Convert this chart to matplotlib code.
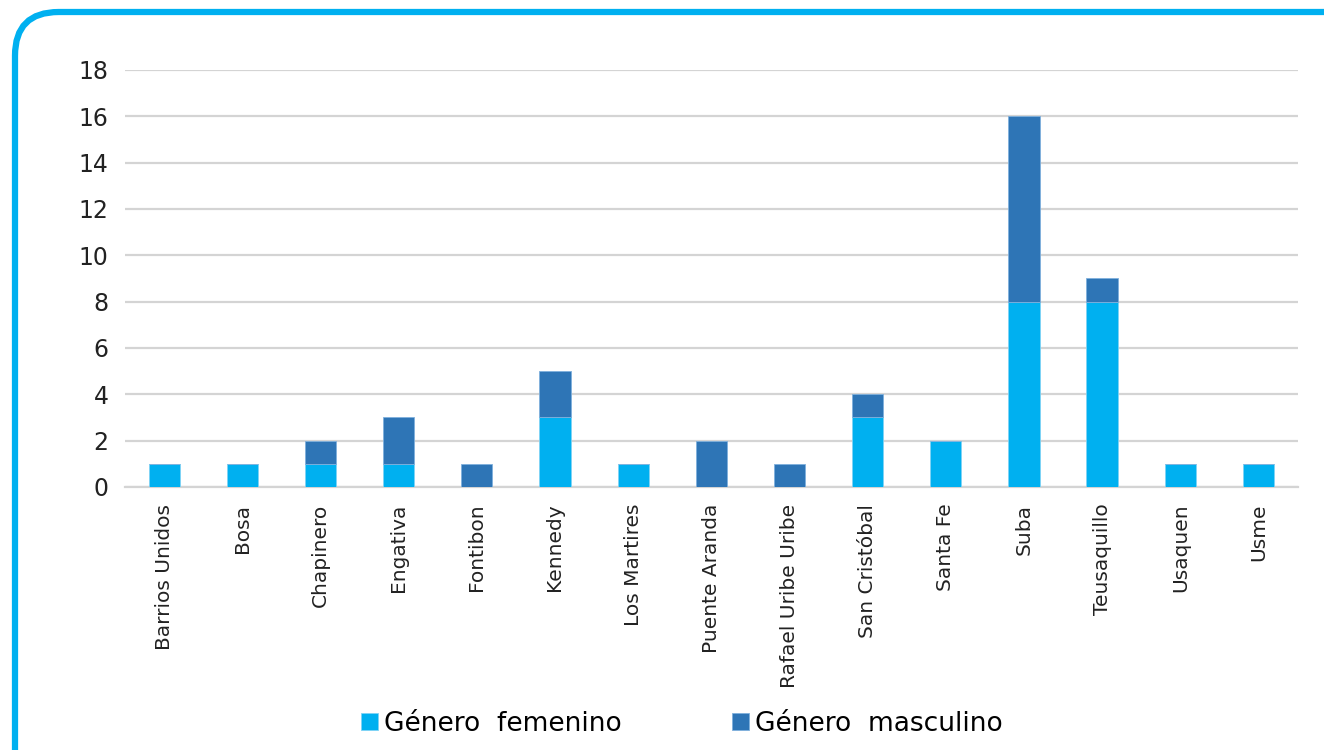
import matplotlib
matplotlib.use("Agg")
import numpy as np
from matplotlib import pyplot as plt
from matplotlib.patches import FancyBboxPatch

localidades = ["Barrios Unidos", "Bosa", "Chapinero", "Engativa", "Fontibon", "Kennedy",
               "Los Martires", "Puente Aranda", "Rafael Uribe Uribe", "San Cristóbal",
               "Santa Fe", "Suba", "Teusaquillo", "Usaquen", "Usme"]
femenino = [1, 1, 1, 1, 0, 3, 1, 0, 0, 3, 2, 8, 8, 1, 1]
masculino = [0, 0, 1, 2, 1, 2, 0, 2, 1, 1, 0, 8, 1, 0, 0]
yticks = [0, 2, 4, 6, 8, 10, 12, 14, 16, 18]

c_fem = "#00B0F0"
c_masc = "#2E75B6"

plt.rcParams['font.family'] = ['DejaVu Sans']

fig = plt.figure(figsize=(13.24, 7.5), dpi=100)
ax = fig.add_axes([0.0945, 0.3507, 0.8855, 0.556])

x = np.arange(len(localidades))
ax.bar(x, femenino, width=0.4, color=c_fem, edgecolor="#7FD3F5", linewidth=0.6,
       label="Género  femenino", zorder=3)
ax.bar(x, masculino, width=0.4, bottom=femenino, color=c_masc, edgecolor="#7FB0DD",
       linewidth=0.6, label="Género  masculino", zorder=3)

ax.set_xlim(-0.5, len(localidades) - 0.5)
ax.set_ylim(0, 18)
ax.set_yticks(yticks)
ax.set_yticklabels([str(v) for v in yticks], fontsize=17, color="#222222")
ax.set_xticks(x)
ax.set_xticklabels(localidades, rotation=90, fontsize=14.5, color="#222222")
ax.tick_params(axis="both", length=0)
ax.tick_params(axis="y", pad=12)
ax.tick_params(axis="x", pad=12)
ax.grid(axis="y", color="#D4D4D4", linewidth=1.6, zorder=0)
for s in ["top", "right", "left"]:
    ax.spines[s].set_visible(False)
ax.spines["bottom"].set_color("#D4D4D4")
ax.spines["bottom"].set_linewidth(1.6)

leg = fig.legend(loc="center", bbox_to_anchor=(0.515, 0.035), ncol=2, frameon=False,
                 fontsize=19, handlelength=0.65, handleheight=0.65, handletextpad=0.2,
                 columnspacing=4.2)

border = FancyBboxPatch((15 / 1324, -0.1), 1.2, 1.1 - 12 / 750,
                        boxstyle="round,pad=0,rounding_size=0.033",
                        transform=fig.transFigure, fill=False,
                        edgecolor=c_fem, linewidth=4.5, mutation_aspect=1324 / 750)
fig.patches.append(border)

fig.savefig("out.png", dpi=100)
